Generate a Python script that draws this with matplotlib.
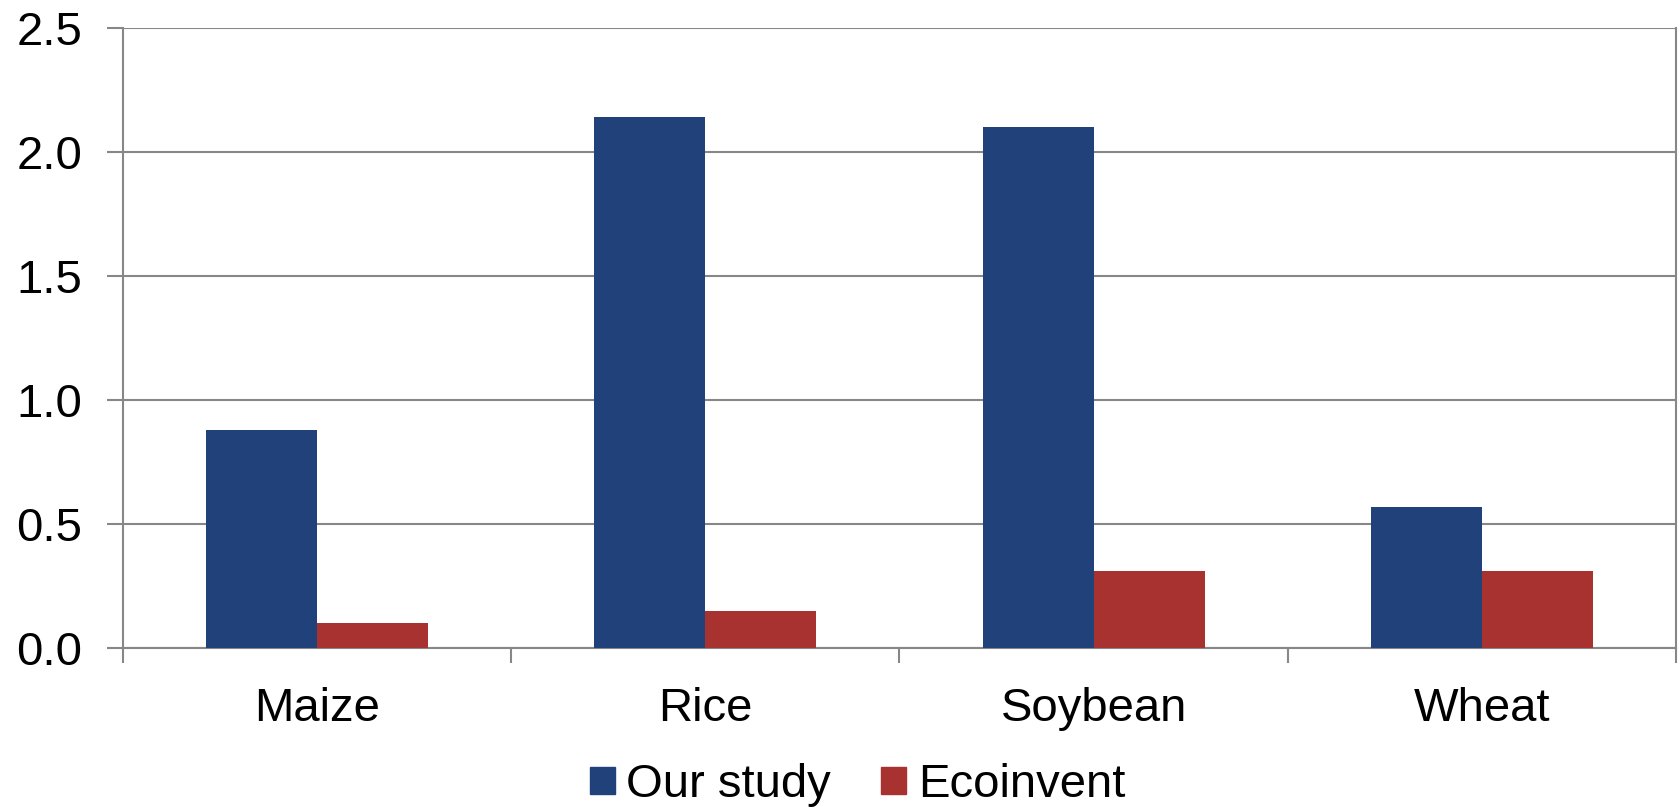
import numpy as np
import matplotlib.pyplot as plt
from matplotlib.patches import Patch
from matplotlib.ticker import FixedLocator

plt.rcParams['font.family'] = ['Liberation Sans', 'DejaVu Sans']

crops = ['Maize', 'Rice', 'Soybean', 'Wheat']
our_study = [0.88, 2.14, 2.10, 0.57]
ecoinvent = [0.10, 0.15, 0.31, 0.31]
yticks = [0.0, 0.5, 1.0, 1.5, 2.0, 2.5]

blue = '#21417b'
red = '#a8322f'
grey = '#878787'

fig = plt.figure(figsize=(16.78, 8.07), dpi=100)
ax = fig.add_axes([0.0733, 0.197, 0.9255, 0.7683])

x = np.arange(len(crops))
w = 1 / 3.5  # gap width 150%
ax.bar(x - w / 2, our_study, w, color=blue, zorder=3)
ax.bar(x + w / 2, ecoinvent, w, color=red, zorder=3)

ax.set_xlim(-0.5, len(crops) - 0.5)
ax.set_ylim(0, 2.5)
ax.set_yticks(yticks)
ax.set_yticklabels([f'{v:.1f}' for v in yticks])
ax.set_xticks(x)
ax.set_xticklabels(crops)
ax.xaxis.set_minor_locator(FixedLocator(np.arange(len(crops) + 1) - 0.5))

ax.grid(axis='y', color=grey, linewidth=1.5, zorder=0)
ax.tick_params(axis='y', length=11.5, width=1.5, color=grey, pad=18, labelsize=34)
ax.tick_params(axis='x', which='major', length=0, pad=28, labelsize=34)
ax.tick_params(axis='x', which='minor', length=10.8, width=1.5, color=grey)

ax.spines['top'].set_visible(False)
for s in ['left', 'right', 'bottom']:
    ax.spines[s].set_color(grey)
    ax.spines[s].set_linewidth(1.5)

handles = [Patch(color=blue, label='Our study'), Patch(color=red, label='Ecoinvent')]
fig.legend(handles=handles, loc='center', bbox_to_anchor=(0.511, 0.027), ncol=2,
           frameon=False, fontsize=34, handlelength=0.53, handleheight=0.53,
           handletextpad=0.25, columnspacing=1.06, borderpad=0, borderaxespad=0)

fig.savefig('out.png', dpi=100)
